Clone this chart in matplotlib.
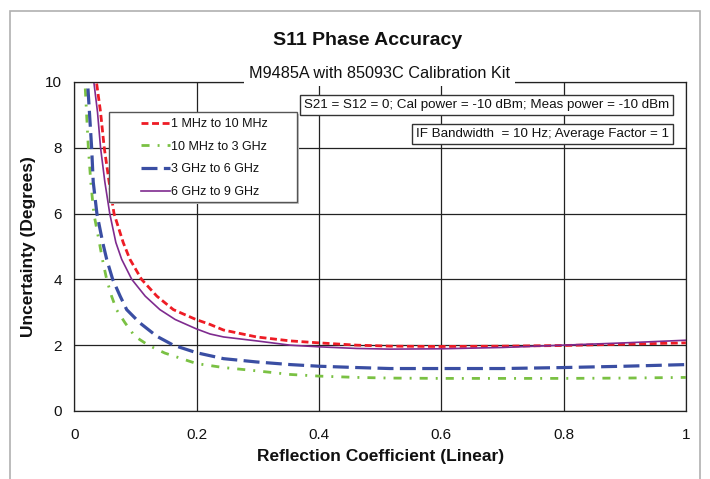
import matplotlib
matplotlib.use("Agg")
from matplotlib import pyplot as plt
from matplotlib.patches import Rectangle

plt.rcParams["font.family"] = ["Liberation Sans", "DejaVu Sans"]

# series (x = reflection coefficient, y = degrees)
red_x = [0.0366, 0.043, 0.049, 0.057, 0.065, 0.080, 0.091, 0.110, 0.135, 0.162,
         0.199, 0.222, 0.244, 0.298, 0.353, 0.4, 0.462, 0.516, 0.6, 0.7, 0.8, 0.9, 1.0]
red_y = [9.95, 9.08, 8.0, 6.96, 6.0, 5.12, 4.61, 4.0, 3.49, 3.08,
         2.78, 2.63, 2.46, 2.25, 2.13, 2.07, 2.0, 1.97, 1.96, 1.97, 1.99, 2.03, 2.07]

green_x = [0.018, 0.023, 0.027, 0.032, 0.041, 0.046, 0.053, 0.061, 0.069, 0.083,
           0.099, 0.121, 0.148, 0.2, 0.244, 0.298, 0.353, 0.4, 0.462, 0.516,
           0.6, 0.7, 0.8, 0.9, 1.0]
green_y = [9.8, 8.0, 6.96, 6.0, 5.12, 4.61, 4.0, 3.49, 3.08, 2.68,
           2.27, 2.0, 1.76, 1.44, 1.32, 1.22, 1.11, 1.06, 1.02, 1.0,
           0.99, 0.99, 0.99, 1.0, 1.02]

blue_x = [0.0224, 0.0284, 0.031, 0.037, 0.0465, 0.053, 0.0628, 0.075, 0.0857, 0.107,
          0.135, 0.162, 0.2, 0.244, 0.298, 0.353, 0.4, 0.462, 0.516,
          0.6, 0.7, 0.8, 0.9, 1.0]
blue_y = [9.8, 8.0, 6.96, 6.0, 5.12, 4.61, 4.0, 3.49, 3.08, 2.68,
          2.27, 2.0, 1.77, 1.59, 1.49, 1.41, 1.36, 1.32, 1.29,
          1.29, 1.29, 1.32, 1.36, 1.41]

purple_x = [0.032, 0.038, 0.043, 0.050, 0.058, 0.068, 0.0775, 0.094, 0.116, 0.14,
            0.165, 0.199, 0.222, 0.244, 0.298, 0.353, 0.4, 0.462, 0.516,
            0.6, 0.7, 0.8, 0.9, 1.0]
purple_y = [10.0, 9.08, 8.0, 6.96, 6.0, 5.12, 4.61, 4.0, 3.49, 3.08,
            2.78, 2.5, 2.34, 2.25, 2.13, 2.0, 1.95, 1.9, 1.88,
            1.89, 1.93, 2.0, 2.07, 2.15]

labels = ["1 MHz to 10 MHz", "10 MHz to 3 GHz", "3 GHz to 6 GHz", "6 GHz to 9 GHz"]

font_color = "#111111"

fig = plt.figure(figsize=(7.10, 4.79), dpi=100)
ax = fig.add_axes([0.1046, 0.142, 0.8614, 0.687])

# grey outer frame of the original figure
fig.patches.append(Rectangle((10 / 710, -0.01), 690 / 710, 1 - 11 / 479 + 0.01,
                             transform=fig.transFigure, fill=False,
                             edgecolor="#b0b0b0", linewidth=1.2))

ax.plot(red_x, red_y, color="#ee1c25", lw=2.0, dashes=(2.5, 1.3), label=labels[0])
ax.plot(green_x, green_y, color="#7ac143", lw=2.0, dashes=(2.9, 2.9, 0.7, 2.9),
        label=labels[1])
ax.plot(blue_x, blue_y, color="#3a4ea3", lw=2.3, dashes=(5, 2), label=labels[2])
ax.plot(purple_x, purple_y, color="#7f2b8f", lw=1.2, label=labels[3])

ax.set_xlim(0, 1)
ax.set_ylim(0, 10)
ax.set_xticks([0, 0.2, 0.4, 0.6, 0.8, 1.0], ["0", "0.2", "0.4", "0.6", "0.8", "1"])
ax.set_yticks([0, 2, 4, 6, 8, 10])
ax.tick_params(length=0, labelsize=11, colors=font_color)
ax.tick_params(axis="x", pad=12)
ax.tick_params(axis="y", pad=9)
ax.grid(True, color="#222222", lw=0.9)
ax.set_axisbelow(True)
for s in ax.spines.values():
    s.set_color("#222222")
    s.set_linewidth(0.9)

ax.set_xlabel("Reflection Coefficient (Linear)", fontsize=12.5, fontweight="bold",
              color=font_color, labelpad=5)
ax.set_ylabel("Uncertainty (Degrees)", fontsize=12.5, fontweight="bold",
              color=font_color, labelpad=6)

fig.text(0.518, 0.916, "S11 Phase Accuracy", ha="center", va="center",
         fontsize=14, fontweight="bold", color=font_color)
fig.text(0.535, 1 - 74 / 479, "M9485A with 85093C Calibration Kit",
         ha="center", va="center", fontsize=11.7, color=font_color, zorder=5,
         bbox=dict(boxstyle="square,pad=0.3", fc="white", ec="none"))

box = dict(boxstyle="square,pad=0.3", fc="white", ec="#333333", lw=1.0)
ax.text(0.9725, 0.930, "S21 = S12 = 0; Cal power = -10 dBm; Meas power = -10 dBm",
        transform=ax.transAxes, ha="right", va="center", fontsize=9.6,
        color=font_color, bbox=box, zorder=5)
ax.text(0.9725, 0.843, "IF Bandwidth  = 10 Hz; Average Factor = 1",
        transform=ax.transAxes, ha="right", va="center", fontsize=9.6,
        color=font_color, bbox=box, zorder=5)

# legend frame drawn separately: the original has a wide left margin
ax.add_patch(Rectangle((0.0567 + 0.004, 0.635 - 0.007), 0.3073, 0.274,
                       transform=ax.transAxes, fc="#c8c8c8", ec="none", zorder=5))
ax.add_patch(Rectangle((0.0567, 0.635), 0.3073, 0.274, transform=ax.transAxes,
                       fc="white", ec="#555555", lw=1.0, zorder=5))
leg = ax.legend(loc="upper left", bbox_to_anchor=(0.109, 0.890), borderaxespad=0,
                fontsize=9, frameon=False, handlelength=2.3, handletextpad=0.1,
                labelspacing=0.85, borderpad=0)
leg.set_zorder(6)
for t in leg.get_texts():
    t.set_color(font_color)

fig.savefig("out.png", dpi=100, facecolor="white")
